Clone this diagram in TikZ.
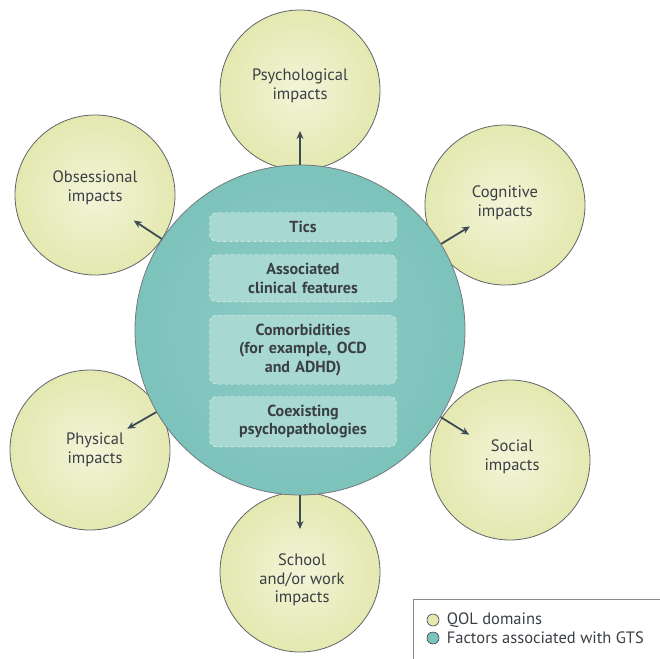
\documentclass[tikz,border=0pt]{standalone}
\usepackage{fontspec}
\setmainfont{PT Sans}
\usetikzlibrary{arrows.meta}
\usetikzlibrary{positioning}
\usetikzlibrary{calc}
\definecolor{qolfill}{HTML}{E4E8B0}
\definecolor{qolcore}{HTML}{F3F4D8}
\definecolor{gtsfill}{HTML}{7CC3BC}
\definecolor{gtscore}{HTML}{8ECCC6}
\definecolor{boxfill}{HTML}{A8D8D2}
\definecolor{inkgray}{HTML}{3A3F44}
\definecolor{arrgray}{HTML}{3D4B55}

\begin{document}
\begin{tikzpicture}[x=1pt, y=-1pt,
    font=\fontsize{16.5}{18.5}\selectfont, text=inkgray,
    qol/.style={circle, draw=inkgray!80, line width=.8pt, minimum size=160pt,
                inner color=qolcore, outer color=qolfill, align=center},
    gts/.style={circle, draw=inkgray!70, line width=.8pt, minimum size=330pt,
                inner color=gtscore, outer color=gtsfill},
    factor/.style={rectangle, rounded corners=7pt, draw=white!85!boxfill, dashed,
                   fill=boxfill, minimum width=181pt, text width=170pt,
                   align=center, inner sep=8.5pt, font=\fontsize{16}{18.5}\selectfont\bfseries},
    impact/.style={-{Stealth[length=8pt, width=7pt]}, draw=arrgray, line width=1.8pt},
    key/.style={circle, draw=inkgray, line width=.6pt, minimum size=12pt, inner sep=0pt}]
  \useasboundingbox (0,0) rectangle (659,659);

  % QOL domains
  \foreach \name/\x/\y in {psy/300/90, cog/505/205, obs/95/195,
                           phy/90/450, soc/510/460, sch/300/572}{
    \node[qol] (\name) at (\x,\y) {};
  }
  \node at ($(psy)+(0,-4)$) [align=center] {Psychological\\impacts};
  \node at ($(cog)+(0,-2)$) [align=center] {Cognitive\\impacts};
  \node at ($(obs)+(0,-7)$) [align=center] {Obsessional\\impacts};
  \node at ($(phy)+(5,0)$) [align=center] {Physical\\impacts};
  \node at ($(soc)+(2,-3)$) [align=center] {Social\\impacts};
  \node at ($(sch)+(2,8)$) [align=center] {School\\and/or work\\impacts};

  % factors associated with GTS
  \node[gts] (gts) at (300,330) {};
  \node[factor] (tics) at (303,227) {Tics};
  \node[factor, below=13pt of tics] (assoc) {Associated\\clinical features};
  \node[factor, below=13pt of assoc] (comorb) {Comorbidities\\(for example, OCD\\and ADHD)};
  \node[factor, below=12pt of comorb] (coexist) {Coexisting\\psychopathologies};

  % arrows
  \foreach \name in {psy, cog, obs, phy, soc, sch}{
    \draw[impact] (gts) -- ($(gts.center)!199pt!(\name.center)$);
  }

  % key
  \draw[inkgray!60, line width=.8pt] (413,662) -- (413,599) -- (662,599);
  \node[key, fill=qolfill] (k1) at (433,620) {};
  \node[key, fill=gtsfill] (k2) at (433,638) {};
  \node[right=4pt of k1] {QOL domains};
  \node[right=4pt of k2] {Factors associated with GTS};
\end{tikzpicture}
\end{document}
